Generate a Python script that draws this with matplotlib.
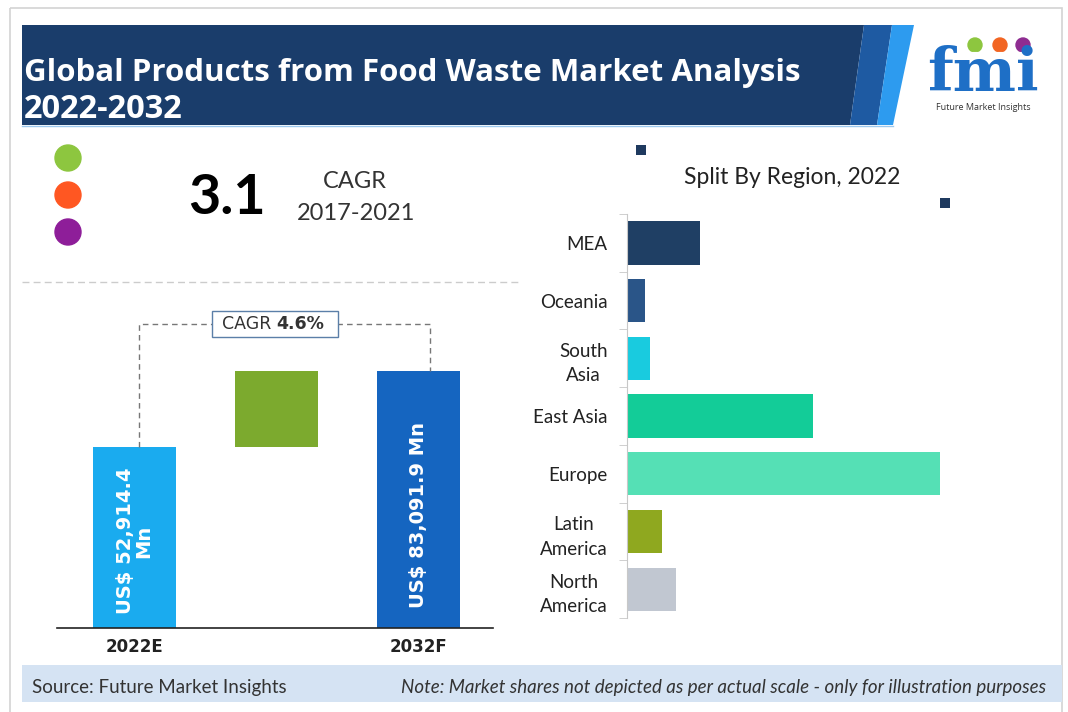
import numpy as np
import matplotlib
matplotlib.use('Agg')
import matplotlib.pyplot as plt
from matplotlib.patches import Rectangle, Polygon, Circle

# --- data ---------------------------------------------------------------
title_lines = ['Global Products from Food Waste Market Analysis', '2022-2032']

hist_cagr = '3.1'
hist_period = '2017-2021'

years = ['2022E', '2032F']
market_values = [52914.4, 83091.9]          # US$ Mn
bar_heights = [70.4, 100.0]                 # illustrative heights (not to scale)
forecast_cagr = '4.6%'

regions = ['MEA', 'Oceania', 'South\nAsia', 'East Asia', 'Europe',
           'Latin\nAmerica', 'North\nAmerica']
region_share = [7.3, 1.8, 2.3, 18.6, 31.3, 3.5, 4.9]  # illustrative
region_colors = ['#1F3F64', '#2A5588', '#19CBDF', '#13CC98', '#55E0B5',
                 '#8FA81F', '#C1C7D1']

source_text = 'Source: Future Market Insights'
note_text = 'Note: Market shares not depicted as per actual scale - only for illustration purposes'

# --- figure -------------------------------------------------------------
W, H = 1068, 712
fig = plt.figure(figsize=(W / 100, H / 100), dpi=100)
fig.patch.set_facecolor('white')


def px_rect(x0, y0, x1, y1):
    """pixel box (top-left origin) -> figure fraction rect"""
    return [x0 / W, 1 - y1 / H, (x1 - x0) / W, (y1 - y0) / H]


bg = fig.add_axes([0, 0, 1, 1])
bg.set_xlim(0, W)
bg.set_ylim(H, 0)
bg.axis('off')

# outer frame
bg.add_patch(Rectangle((10, 8), 1052, 720, fill=False, ec='#D3D3D3', lw=1.2))

# header band
navy = '#1A3D6B'
bg.add_patch(Polygon([(22, 25), (864, 25), (850, 125), (22, 125)], color=navy, lw=0))
bg.add_patch(Polygon([(864, 25), (892, 25), (877, 125), (850, 125)], color='#1E5AA2', lw=0))
bg.add_patch(Polygon([(892, 25), (914, 25), (893, 125), (877, 125)], color='#2D9BEF', lw=0))
bg.plot([22, 893], [125.5, 125.5], color='#9CC8EE', lw=1)
bg.text(24, 73, title_lines[0], color='white', fontsize=22.5, fontweight='bold',
        family='Open Sans', va='center', ha='left')
bg.text(24, 110, title_lines[1], color='white', fontsize=23.5, fontweight='bold',
        family='Open Sans', va='center', ha='left')

# logo
bg.text(983, 74, 'fmi', color='#1E6FC6', fontsize=43, fontweight='bold',
        family='DejaVu Serif', ha='center', va='center')
for yy in np.arange(52, 98, 4.5):
    bg.plot([912, 1054], [yy, yy], color='white', lw=0.8)
for cx, col in zip([975, 1000, 1023], ['#8DC63F', '#F26522', '#8E2C91']):
    bg.add_patch(Circle((cx, 45), 7, color=col))
bg.text(983, 108, 'Future Market Insights', color='#333333', fontsize=6.5,
        family='Open Sans', ha='center', va='center')

# left KPI block
for cy, col in zip([158, 195, 232], ['#8DC63F', '#FF5722', '#8E1E99']):
    bg.add_patch(Circle((68, cy), 13, color=col))
bg.text(227, 198, hist_cagr, fontsize=40, fontweight='bold', family='Lato',
        ha='center', va='center', color='black')
bg.text(355, 182, 'CAGR', fontsize=17, family='Lato', ha='center', va='center',
        color='#333333')
bg.text(356, 213, hist_period, fontsize=17, family='Lato', ha='center',
        va='center', color='#333333')
bg.plot([22, 520], [282, 282], color='#CCCCCC', lw=1, ls=(0, (5, 3)))

# footer band
bg.add_patch(Rectangle((22, 665), 1040, 37, color='#D5E3F3', lw=0))
bg.text(32, 688, source_text, fontsize=13.5, family='Lato', ha='left',
        va='center', color='#333333')
bg.text(1046, 688, note_text, fontsize=13.5, family='Lato', style='italic',
        ha='right', va='center', color='#333333')

# --- left: market value bars --------------------------------------------
ax = fig.add_axes(px_rect(57, 300, 493, 628))
ax.patch.set_alpha(0)
x = np.arange(3)
bar_w = 0.585
ax.bar(x[0], bar_heights[0], width=bar_w, color='#1AABEF')
ax.bar(x[1], bar_heights[1] - bar_heights[0], bottom=bar_heights[0],
       width=bar_w, color='#7CAA2E')
ax.bar(x[2], bar_heights[1], width=bar_w, color='#1565C0')
ax.set_xlim(-0.546, 2.525)
ax.set_ylim(0, 127.6)
for s in ['top', 'right', 'left']:
    ax.spines[s].set_visible(False)
ax.spines['bottom'].set_color('#222222')
ax.spines['bottom'].set_linewidth(1.2)
ax.set_yticks([])
ax.set_xticks([x[0], x[2]])
ax.set_xticklabels(years, fontsize=12, fontweight='bold', family='DejaVu Sans',
                   color='#222222')
ax.tick_params(axis='x', length=0, pad=7)

label_1 = f'US$ {market_values[0]:,.1f}\nMn'
label_2 = f'US$ {market_values[1]:,.1f} Mn'
ax.text(x[0], bar_heights[0] * 0.48, label_1, rotation=90, color='white',
        fontsize=14, fontweight='bold', ha='center', va='center',
        multialignment='center', linespacing=1.0)
ax.text(x[2], bar_heights[1] * 0.44, label_2, rotation=90, color='white',
        fontsize=14, fontweight='bold', ha='center', va='center')

# CAGR connector
top_y = 118.3
ax.plot([x[0] + 0.03, x[0] + 0.03, x[2] + 0.08, x[2] + 0.08],
        [bar_heights[0], top_y, top_y, bar_heights[1]],
        color='#777777', lw=1, ls=(0, (4, 3)), zorder=1)
ax.add_patch(Rectangle((212, 311), 126, 26, fc='white', ec='#5B7FA8', lw=1,
                       transform=bg.transData, clip_on=False, zorder=2))
ax.text(1.0, top_y, 'CAGR ', fontsize=12.5, family='DejaVu Sans', ha='right',
        va='center', color='#333333', zorder=4)
ax.text(1.0, top_y, forecast_cagr, fontsize=12.5, family='DejaVu Sans',
        fontweight='bold', ha='left', va='center', color='#333333', zorder=4)

# --- right: regional split ----------------------------------------------
ax2 = fig.add_axes(px_rect(627, 214, 1000, 618))
ax2.patch.set_alpha(0)
y = np.arange(len(regions))
ax2.barh(y, region_share, height=0.75, color=region_colors)
ax2.set_ylim(len(regions) - 0.5, -0.5)
ax2.set_xlim(0, 37.3)
for s in ['top', 'right', 'bottom']:
    ax2.spines[s].set_visible(False)
ax2.spines['left'].set_color('#C8C8C8')
ax2.set_xticks([])
ax2.set_yticks(y)
ax2.set_yticklabels(regions, fontsize=13.5, family='Lato', color='#222222')
for t in ax2.get_yticklabels():
    t.set_multialignment('center')
    t.set_linespacing(1.55)
ax2.set_yticks(np.arange(-0.5, len(regions), 1), minor=True)
ax2.tick_params(axis='y', which='major', length=0, pad=14)
ax2.tick_params(axis='y', which='minor', length=6, color='#C8C8C8')

bg.text(792, 177, 'Split By Region, 2022', fontsize=16.5, family='Lato',
        ha='center', va='center', color='#222222')
bg.add_patch(Rectangle((636, 145), 10, 10, color='#1F3A5F', lw=0))
bg.add_patch(Rectangle((940, 198), 10, 10, color='#1F3A5F', lw=0))

fig.savefig('out.png', dpi=100)
